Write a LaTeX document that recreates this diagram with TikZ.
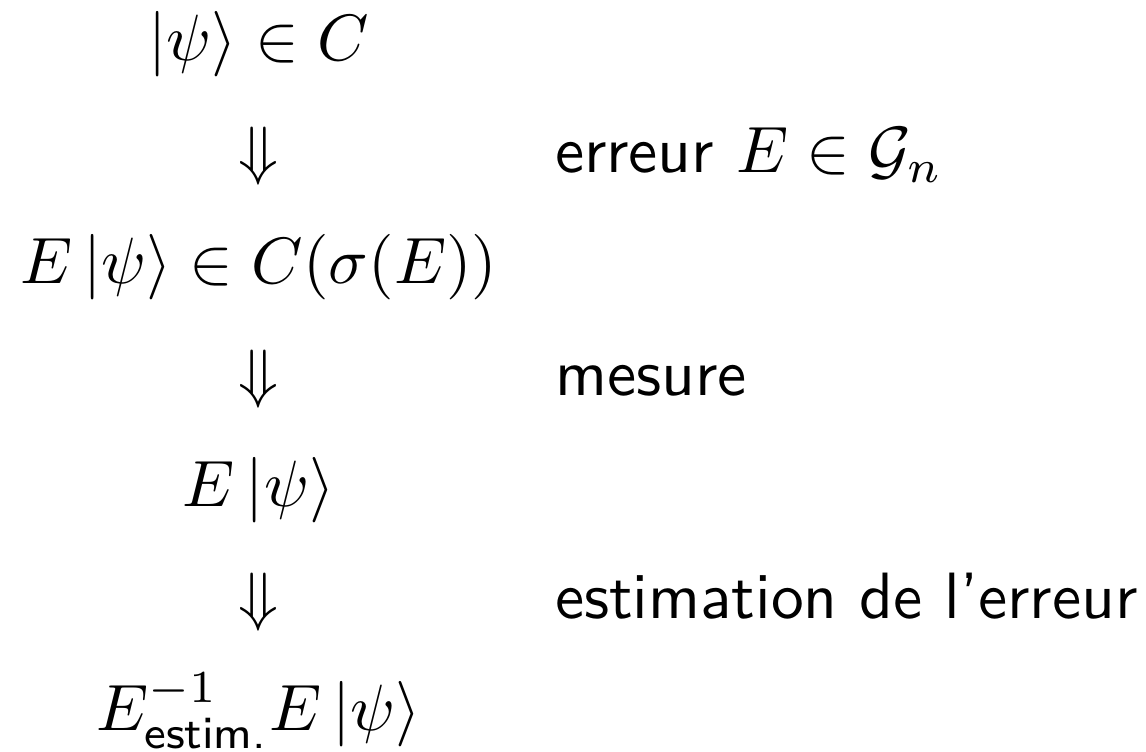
\documentclass[tikz,border=0pt]{standalone}
\usepackage{amsmath}
\usepackage{amssymb}
\usetikzlibrary{positioning}
\newcommand{\kt}[1]{\left\lvert #1\right\rangle}

\begin{document}
\begin{tikzpicture}[
    state/.style={inner sep=0pt, anchor=base},
    imp/.style={inner sep=0pt, anchor=base},
    lbl/.style={inner sep=0pt, font=\sffamily}
]
\useasboundingbox (-39.5pt,9.3pt) rectangle (135.5pt,-105.4pt);

\node[state] (s1) at (0pt,0pt) {$\kt{\psi} \in C$};
\node[imp] (d1) at (0pt,-17.03pt) {$\Downarrow$};
\node[state] (s2) at (0pt,-34.06pt) {$E\kt{\psi} \in C(\sigma(E))$};
\node[imp] (d2) at (0pt,-51.09pt) {$\Downarrow$};
\node[state] (s3) at (0pt,-68.12pt) {$E\kt{\psi}$};
\node[imp] (d3) at (0pt,-85.15pt) {$\Downarrow$};
\node[state] (s4) at (0pt,-102.18pt) {$E^{-1}_{\textsf{estim.}}E\kt{\psi}$};

\node[lbl, base right=41.8pt of d1] (l1) {erreur $E \in \mathcal{G}_n$};
\node[lbl, base right=41.8pt of d2] (l2) {mesure};
\node[lbl, base right=41.8pt of d3] (l3) {estimation de l'erreur};
\end{tikzpicture}
\end{document}
